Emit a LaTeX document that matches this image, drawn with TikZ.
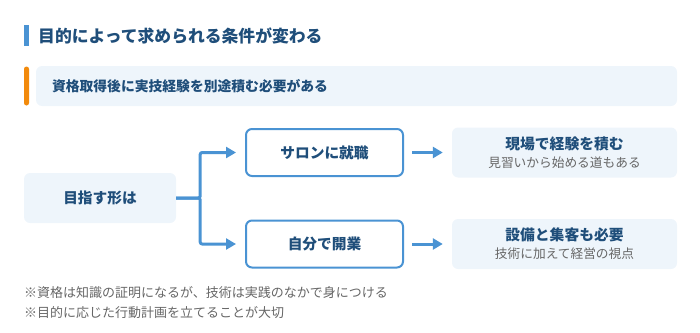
\documentclass[tikz,border=0pt]{standalone}
\usepackage{fontspec}
\setmainfont{Noto Sans CJK JP}
\usepackage{xcolor}
\usetikzlibrary{arrows.meta,positioning}

\definecolor{navy}{HTML}{1F4E7A}
\definecolor{lineblue}{HTML}{4A93D3}
\definecolor{paleblue}{HTML}{EEF5FB}
\definecolor{accent}{HTML}{F28A0C}
\definecolor{greytext}{HTML}{666666}

\tikzset{
  softbox/.style={fill=paleblue,rounded corners=6pt,inner sep=0pt},
  linebox/.style={draw=lineblue,line width=2pt,fill=white,rounded corners=6pt,inner sep=0pt,
    minimum width=157pt,minimum height=47pt,font=\fontsize{14.7}{18}\selectfont\bfseries,text=navy},
  conn/.style={draw=lineblue,line width=3pt,rounded corners=2pt,-{Triangle[length=10pt,width=11pt]}},
  footnote/.style={anchor=west,inner sep=0pt,text=greytext,font=\fontsize{13}{16}\selectfont},
}

\begin{document}
\begin{tikzpicture}[x=1pt,y=-1pt]
    \useasboundingbox (0,0) rectangle (700,332);

    % heading
    \fill[lineblue] (24,25) rectangle (28.5,46);
    \node[anchor=west,inner sep=0pt,text=navy,font=\fontsize{16.8}{20}\selectfont\bfseries] (title) at (38,36) {目的によって求められる条件が変わる};

    % note
    \node[softbox,minimum width=641pt,minimum height=40pt,text width=609pt,align=left,inner xsep=16pt,
      text=navy,font=\fontsize{13.8}{17}\selectfont\bfseries] (need) at (356.5,86) {資格取得後に実技経験を別途積む必要がある};
    \fill[accent,rounded corners=2.5pt] (24,66.5) rectangle (29,105.5);

    % boxes
    \node[softbox,minimum width=152pt,minimum height=50pt,text=navy,font=\fontsize{14.7}{18}\selectfont\bfseries] (goal) at (100,198) {目指す形は};
    \node[linebox] (salon) at (324.5,152.5) {サロンに就職};
    \node[linebox] (open) at (324.5,244) {自分で開業};
    \node[softbox,minimum width=225pt,minimum height=50pt,align=center] (exp) at (564.5,152.5)
      {{\fontsize{14.8}{18}\selectfont\bfseries\color{navy}現場で経験を積む}\\[5pt]
       {\fontsize{12.7}{16}\selectfont\color{greytext}見習いから始める道もある}};
    \node[softbox,minimum width=225pt,minimum height=50pt,align=center] (equip) at (564.5,244)
      {{\fontsize{14.8}{18}\selectfont\bfseries\color{navy}設備と集客も必要}\\[5pt]
       {\fontsize{12.7}{16}\selectfont\color{greytext}技術に加えて経営の視点}};

    % connectors
    \draw[conn,shorten >=9pt] (goal.east) -- ++(24,0) |- (salon.west);
    \draw[conn,shorten >=9pt] (goal.east) -- ++(24,0) |- (open.west);
    \draw[conn,shorten <=8pt,shorten >=9pt] (salon.east) -- (exp.west);
    \draw[conn,shorten <=8pt,shorten >=9pt] (open.east) -- (equip.west);

    % footnotes
    \node[footnote] (note1) at (24,293) {※資格は知識の証明になるが、技術は実践のなかで身につける};
    \node[footnote] (note2) at (24,313) {※目的に応じた行動計画を立てることが大切};
\end{tikzpicture}
\end{document}
